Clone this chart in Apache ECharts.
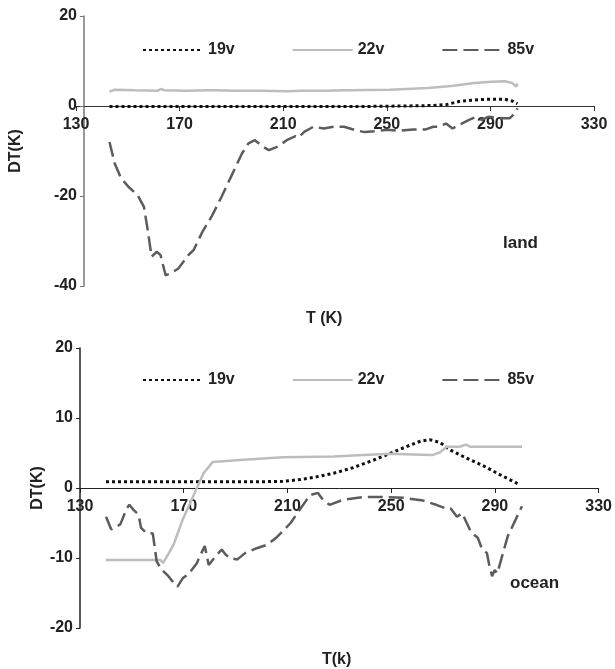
<!DOCTYPE html>
<html>
<head>
<meta charset="utf-8">
<script src="https://cdn.jsdelivr.net/npm/echarts@6/dist/echarts.min.js"></script>
<style>
  body { margin: 0; background: #fff; }
  #chart { width: 615px; height: 669px; }
</style>
</head>
<body>
<div id="chart"></div>
<script>
// land panel
var land19v = [[140,-0.1],[160,-0.1],[180,-0.1],[200,-0.1],[220,-0.1],[240,-0.1],[255,0],[266,0.1],[272,0.3],[277,1.0],[282,1.3],[288,1.5],[295,1.5],[298,1.1],[300,0.5]];
var land22v = [[140,3.2],[142,3.6],[150,3.5],[159,3.4],[160,3.8],[161.5,3.5],[170,3.4],[178,3.5],[178.5,3.8],[180,3.5],[190,3.4],[196.5,3.4],[197,3.7],[198.5,3.4],[210,3.3],[215,3.4],[215.5,3.7],[217,3.4],[225,3.4],[232.5,3.5],[233,3.8],[234.5,3.5],[250,3.6],[265,4.0],[275,4.5],[283,5.1],[290,5.4],[295,5.5],[298,5.1],[299.5,4.3],[300,5.0]];
var land85v = [[140,-8],[142,-12.7],[144.5,-16],[147.5,-18],[151,-19.8],[153.5,-22.4],[155,-27.6],[156.5,-33.5],[158.5,-32.4],[160,-33.1],[162,-37.6],[164,-37.2],[167,-36.1],[171,-33.1],[173,-32],[176.5,-27.9],[180,-24.6],[184,-20.1],[188,-15.3],[192,-10.5],[194.5,-8.3],[197,-7.6],[200,-9],[202.5,-9.8],[206,-9],[209.5,-7.6],[211,-7.2],[213,-6.7],[214,-7.0],[216.5,-5.7],[220,-4.6],[224,-5.0],[228,-4.6],[232,-4.6],[236,-5.3],[240,-5.8],[244,-5.6],[249,-5.3],[254,-5.5],[259,-5.2],[264,-5.2],[267,-4.6],[269,-4.6],[272,-3.9],[274.5,-5.0],[277,-4.2],[281,-3.1],[283.5,-2.5],[286,-3.1],[288.5,-2.4],[294,-2.7],[297,-2.7],[299,-1.6],[300,-0.5]];

// ocean panel
var ocean19v = [[140,0.9],[160,0.9],[180,0.9],[200,0.9],[208,0.95],[214.5,1.2],[221,1.6],[227.5,2.1],[235,2.9],[243,4.0],[249,4.9],[255.5,5.9],[261,6.7],[264.5,6.9],[268.5,6.5],[272,5.5],[278.5,4.3],[285,3.2],[291.5,1.9],[299,0.5]];
var ocean22v = [[140,-10.3],[161,-10.3],[162,-10.7],[164.5,-9.1],[166,-8.1],[169.5,-4.5],[173.5,-1.2],[177.5,2.1],[181,3.7],[191.5,4.0],[208,4.4],[227.5,4.5],[249,4.9],[258,4.8],[265.5,4.7],[268.5,5.1],[271,5.9],[276,5.9],[278.5,6.2],[280,5.9],[300,5.9]];
var ocean85v = [[140,-4.1],[142,-5.9],[145.5,-5.2],[148,-2.9],[149,-2.4],[150.5,-3.1],[152.5,-3.8],[153.5,-5.7],[155.5,-6.4],[158,-6.5],[159.5,-10.5],[161.5,-11.7],[164,-12.6],[165.5,-13.3],[167.5,-14.1],[169.5,-12.9],[172,-12.2],[175,-10.7],[176,-9.8],[178,-8.3],[179.5,-11],[182,-9.8],[184.5,-8.8],[186,-9.5],[187.5,-10],[190.5,-10.2],[193.5,-9.3],[198,-8.6],[202,-8.1],[205.5,-7.1],[211,-5],[214.5,-3.1],[218.5,-1],[221.5,-0.7],[223.5,-1.7],[226,-2.4],[231,-1.7],[239,-1.3],[247,-1.3],[254.5,-1.4],[262,-1.8],[267,-2.4],[270.5,-2.9],[272.5,-2.9],[275,-4.1],[277,-3.6],[280.5,-6.4],[283,-7.1],[284.5,-8.6],[286.5,-9.3],[287.5,-11.2],[288.5,-12.6],[289.5,-11.7],[290.5,-12.2],[294.5,-6.9],[300,-2.6]];

var seriesNames = ['19v', '22v', '85v'];
var font = 'Liberation Sans, Arial, sans-serif';

var styles = {
  '19v': { color: '#111', width: 3, type: [3, 3] },
  '22v': { color: '#bdbdbd', width: 2.5, type: 'solid' },
  '85v': { color: '#5c5c5c', width: 2.5, type: [15, 6] }
};

function line(name, data, idx) {
  var s = styles[name];
  return {
    name: name,
    type: 'line',
    xAxisIndex: idx,
    yAxisIndex: idx,
    data: data,
    symbol: 'none',
    animation: false,
    itemStyle: { color: s.color },
    lineStyle: { color: s.color, width: s.width, type: s.type, cap: 'butt' }
  };
}

// x axis of the data grid (hidden) and a visible copy whose grid ends at y = 0
function xAx(idx, visible, lineColor) {
  return {
    type: 'value', gridIndex: idx, min: 130, max: 330, interval: 40, show: visible,
    axisLine: { onZero: false, lineStyle: { color: lineColor, width: 1 } },
    axisTick: { length: 5, lineStyle: { color: lineColor } },
    axisLabel: { color: '#222', fontSize: 16, fontWeight: 'bold', fontFamily: font, margin: 11 },
    splitLine: { show: false }
  };
}

function yAx(idx, min, max, interval, gap, lineColor) {
  return {
    type: 'value', gridIndex: idx, min: min, max: max, interval: interval,
    name: 'DT(K)', nameLocation: 'middle', nameRotate: 90, nameGap: gap,
    nameMoveOverlap: false,
    nameTextStyle: { color: '#222', fontSize: 16, fontWeight: 'bold', fontFamily: font },
    axisLine: { show: true, onZero: false, lineStyle: { color: lineColor, width: 1.5 } },
    axisTick: { show: true, length: 4, lineStyle: { color: lineColor } },
    axisLabel: { color: '#222', fontSize: 16, fontWeight: 'bold', fontFamily: font, margin: 7 },
    splitLine: { show: false }
  };
}

function legendAt(top) {
  return {
    data: seriesNames, left: 137, top: top, itemWidth: 60, itemHeight: 12, itemGap: 57,
    itemStyle: { opacity: 0 },
    textStyle: { color: '#222', fontSize: 16, fontWeight: 'bold', fontFamily: font }
  };
}

var chart = echarts.init(document.getElementById('chart'));

chart.setOption({
  backgroundColor: '#fff',
  animation: false,
  legend: [legendAt(37), legendAt(367)],
  grid: [
    { left: 76, right: 21, top: 16, height: 270 },
    { left: 80, right: 15, top: 348, height: 280 },
    { left: 76, right: 21, top: 16, height: 90 },
    { left: 80, right: 15, top: 348, height: 140 }
  ],
  xAxis: [xAx(0, false, '#333'), xAx(1, false, '#222'), xAx(2, true, '#333'), xAx(3, true, '#222')],
  yAxis: [
    yAx(0, -40, 20, 20, 60, '#777'),
    yAx(1, -20, 20, 10, 34, '#222'),
    { type: 'value', gridIndex: 2, min: 0, max: 1, show: false },
    { type: 'value', gridIndex: 3, min: 0, max: 1, show: false }
  ],
  graphic: [
    { type: 'text', left: 306, top: 311, style: { text: 'T (K)', fill: '#222', font: 'bold 16px ' + font } },
    { type: 'text', left: 322, top: 652, style: { text: 'T(k)', fill: '#222', font: 'bold 16px ' + font } },
    { type: 'text', left: 503, top: 235, style: { text: 'land', fill: '#222', font: 'bold 17px ' + font } },
    { type: 'text', left: 510, top: 575, style: { text: 'ocean', fill: '#222', font: 'bold 17px ' + font } }
  ],
  series: [
    line('19v', land19v, 0),
    line('22v', land22v, 0),
    line('85v', land85v, 0),
    line('19v', ocean19v, 1),
    line('22v', ocean22v, 1),
    line('85v', ocean85v, 1)
  ]
});
</script>
</body>
</html>
